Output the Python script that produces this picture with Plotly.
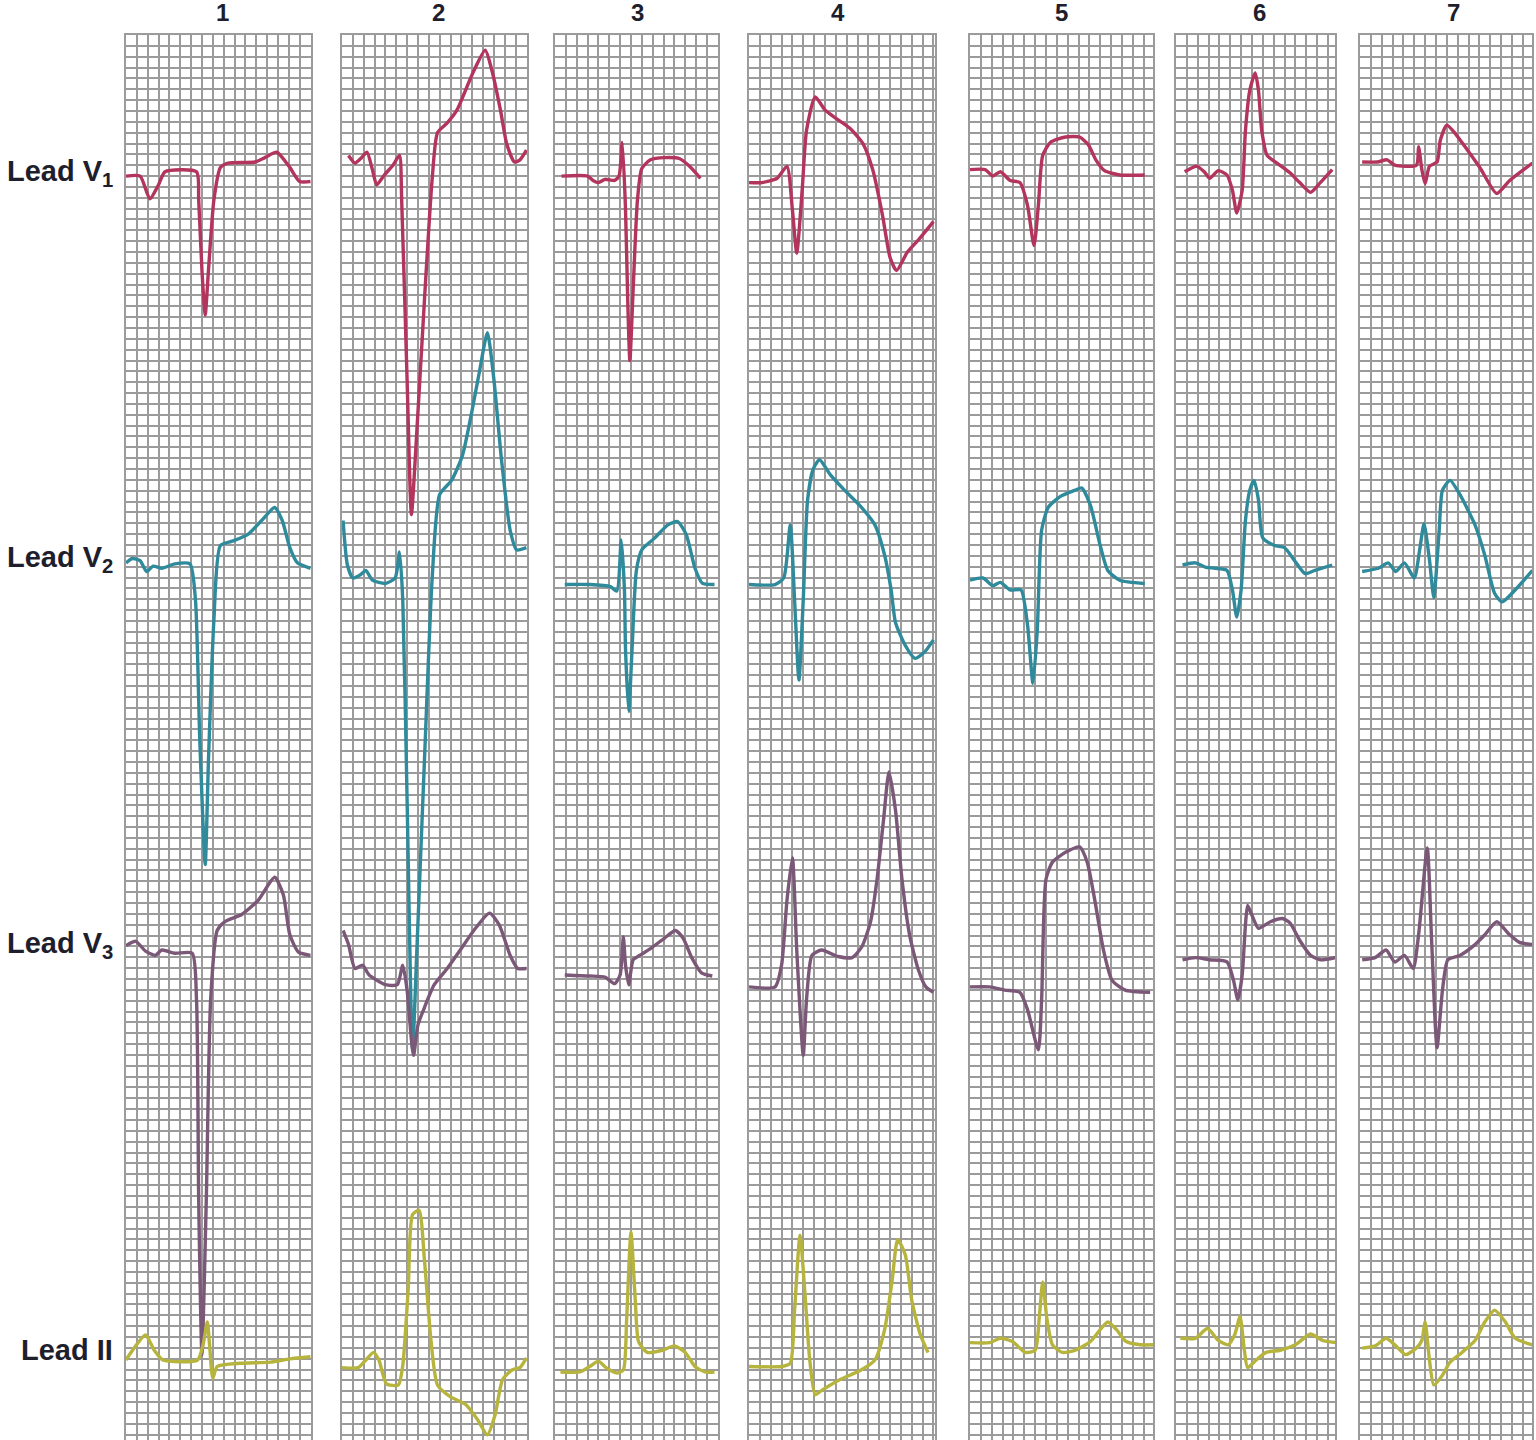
import plotly.graph_objects as go

# ---------------- data (time in small boxes from strip start, amplitude in small boxes) -------------
COLUMN_LABELS = ["1", "2", "3", "4", "5", "6", "7"]
LEAD_LABELS = ["Lead V<sub>1</sub>", "Lead V<sub>2</sub>", "Lead V<sub>3</sub>", "Lead II"]

V1_T = [
    [0, 1.3, 2.2, 3.0, 3.6, 6.5, 6.7, 7.0, 7.3, 7.6, 8.1, 8.7, 9.4, 11.9, 12.8, 13.9, 15.1, 16.0, 17.0],
    [0.6, 1.2, 1.8, 2.3, 2.8, 3.2, 3.9, 4.7, 5.3, 5.5, 6.0, 6.4, 6.8, 7.6, 8.3, 8.8, 9.7, 10.6, 11.3, 12.1, 13.2, 13.8, 14.6, 15.2, 15.9, 16.4, 17.0],
    [0.6, 3.0, 3.5, 4.0, 4.6, 5.5, 5.9, 6.2, 6.5, 6.7, 6.9, 7.2, 7.6, 8.0, 8.8, 10.1, 11.5, 12.4, 13.4],
    [0, 1.2, 2.6, 3.5, 4.0, 4.4, 4.9, 5.3, 6.1, 7.0, 7.9, 9.3, 10.5, 11.4, 12.3, 13.0, 13.6, 14.6, 15.6, 17.0],
    [0, 1.4, 2.1, 2.8, 3.7, 4.6, 5.3, 5.9, 6.3, 6.7, 7.4, 8.8, 10.1, 10.9, 11.6, 12.4, 13.8, 16.1],
    [0.8, 1.9, 2.6, 3.1, 3.9, 4.7, 5.2, 5.6, 6.1, 6.4, 6.8, 7.3, 7.6, 7.9, 8.4, 9.3, 10.5, 11.4, 12.4, 13.3, 14.4],
    [0.2, 1.6, 2.5, 3.2, 5.2, 5.4, 5.7, 6.0, 6.4, 7.1, 7.4, 8.0, 8.8, 9.9, 11.1, 12.6, 13.8, 15.9],
]
V1_V = [
    [-0.1, -0.1, -2.2, -0.9, 0.3, 0.3, -2.3, -8.8, -12.9, -8.8, -2.3, 0.7, 1.1, 1.2, 1.6, 2.1, 0.7, -0.6, -0.6],
    [1.8, 1.1, 1.6, 2.1, 0.5, -0.9, 0, 0.9, 1.8, -2.3, -18.9, -31.3, -25.3, -11.5, -0.5, 3.9, 4.8, 6.0, 7.6, 9.5, 11.5, 9.7, 6.0, 2.8, 1.2, 1.4, 2.3],
    [-0.1, -0.1, -0.5, -0.7, -0.4, -0.5, -0.1, 3.0, -3.2, -11.5, -17.1, -10.6, -2.3, 0.6, 1.4, 1.6, 1.5, 0.8, -0.3],
    [-0.7, -0.7, -0.3, 0.8, -3.2, -7.2, -1.4, 4.1, 7.2, 6.0, 5.3, 4.3, 2.9, 0.5, -3.7, -7.6, -8.8, -7.1, -6.0, -4.3],
    [0.5, 0.5, -0.1, 0.3, -0.5, -0.7, -2.8, -6.5, -2.8, 1.8, 3.0, 3.5, 3.5, 2.8, 1.4, 0.4, 0, 0],
    [0.3, 0.8, 0.3, -0.3, 0.4, 0, -1.4, -3.5, -1.4, 4.1, 7.8, 9.4, 7.8, 4.1, 1.8, 1.1, 0.2, -0.7, -1.6, -0.7, 0.5],
    [1.2, 1.2, 1.4, 0.9, 0.9, 2.6, 0.5, -0.8, 0.8, 1.2, 3.2, 4.6, 3.8, 2.3, 0.6, -1.7, -0.5, 1.1],
]

V2_T = [
    [0, 0.6, 1.3, 1.9, 2.5, 3.3, 4.5, 5.9, 6.4, 6.8, 7.3, 7.6, 8.1, 8.7, 9.8, 11.2, 12.5, 13.7, 14.4, 15.1, 15.8, 17.0],
    [0.1, 0.5, 1.0, 1.7, 2.2, 2.8, 4.0, 4.9, 5.3, 5.6, 6.0, 6.5, 6.9, 7.6, 8.3, 9.0, 10.1, 11.1, 12.0, 12.7, 13.4, 14.0, 14.7, 15.5, 16.1, 17.0],
    [0.9, 3.2, 5.1, 5.7, 6.1, 6.4, 6.5, 6.8, 7.1, 7.5, 8.0, 9.2, 10.4, 11.3, 12.1, 12.9, 13.6, 14.7],
    [0, 2.4, 3.2, 3.8, 4.2, 4.6, 5.0, 5.4, 5.9, 6.5, 7.5, 8.8, 10.2, 11.6, 12.5, 13.1, 13.5, 14.4, 15.3, 16.2, 17.0],
    [0, 1.2, 2.1, 2.8, 3.7, 4.7, 5.3, 5.8, 6.2, 6.6, 7.2, 8.3, 9.7, 10.3, 11.1, 12.0, 12.7, 13.8, 16.1],
    [0.6, 1.8, 2.7, 3.6, 4.7, 5.2, 5.6, 6.0, 6.4, 6.8, 7.2, 7.6, 8.0, 9.1, 10.0, 11.0, 11.9, 12.8, 14.4],
    [0.2, 1.7, 2.6, 3.3, 4.1, 5.0, 5.5, 5.9, 6.4, 6.8, 7.3, 7.6, 8.3, 9.2, 10.6, 11.5, 12.4, 13.1, 14.3, 15.9],
]
V2_V = [
    [0.2, 0.6, 0.4, -0.6, -0.1, -0.3, 0.1, 0.1, -3.2, -16.1, -27.6, -18.0, -5.1, 1.8, 2.2, 2.8, 4.1, 5.3, 4.1, 1.6, 0.2, -0.3],
    [4.1, 0, -1.2, -0.9, -0.5, -1.4, -1.7, -1.2, 1.2, -3.2, -21.7, -44.7, -35.5, -18.0, -1.4, 6.5, 7.8, 10.1, 14.3, 18.0, 21.4, 17.1, 9.7, 3.2, 1.4, 1.6],
    [-1.8, -1.8, -2.0, -2.4, 2.3, -2.3, -7.8, -13.5, -7.8, -0.5, 1.4, 2.5, 3.7, 4.0, 2.8, -0.3, -1.7, -1.8],
    [-1.8, -1.8, -1.2, 3.7, -3.2, -10.6, -3.2, 6.0, 8.8, 9.7, 8.3, 6.9, 5.5, 3.7, 0.9, -2.3, -5.3, -7.4, -8.6, -8.0, -6.9],
    [-1.4, -1.2, -1.9, -1.6, -2.3, -2.3, -5.5, -10.9, -6.0, 3.2, 5.3, 6.3, 6.9, 7.1, 5.5, 1.8, -0.5, -1.4, -1.7],
    [0, 0.2, -0.2, -0.3, -0.5, -2.3, -4.8, -2.3, 4.1, 6.9, 7.8, 6.0, 2.5, 1.8, 1.6, 0.3, -0.8, -0.5, 0],
    [-0.6, -0.3, 0.2, -0.6, 0.2, -1.2, 1.4, 3.8, 0.5, -3.0, 3.2, 6.9, 7.8, 6.5, 3.7, 0.9, -2.6, -3.4, -2.3, -0.5],
]

V3_T = [
    [0, 0.9, 1.8, 2.7, 3.3, 4.5, 6.1, 6.5, 6.7, 7.0, 7.4, 7.8, 8.4, 9.1, 10.7, 12.2, 13.7, 14.5, 15.1, 15.9, 17.0],
    [0.1, 0.6, 1.2, 1.9, 2.5, 4.0, 5.1, 5.6, 6.0, 6.4, 6.6, 7.0, 7.6, 8.5, 9.7, 10.9, 12.3, 13.6, 14.5, 15.5, 16.2, 17.0],
    [0.9, 3.2, 4.6, 5.5, 6.0, 6.3, 6.5, 6.8, 7.2, 7.8, 8.9, 10.1, 11.1, 11.8, 12.6, 13.5, 14.5],
    [0, 2.4, 3.0, 3.5, 4.0, 4.4, 5.0, 5.3, 5.8, 6.7, 8.2, 9.5, 10.4, 11.2, 11.8, 12.4, 12.9, 13.5, 14.1, 14.8, 15.6, 16.3, 17.0],
    [0, 1.8, 3.2, 4.6, 5.3, 6.3, 6.6, 7.0, 7.6, 8.8, 10.1, 10.8, 11.5, 12.3, 13.1, 14.3, 16.6],
    [0.6, 1.8, 3.1, 4.7, 5.3, 5.7, 6.1, 6.4, 6.6, 7.0, 7.6, 8.7, 9.8, 10.5, 11.4, 12.4, 13.3, 14.7],
    [0.2, 1.4, 2.4, 3.2, 4.1, 4.9, 5.4, 6.2, 6.6, 7.1, 7.6, 8.1, 9.2, 10.6, 11.5, 12.6, 13.8, 14.7, 15.9],
]
V3_V = [
    [0.4, 0.8, -0.1, -0.5, 0, -0.3, -0.3, -4.6, -23.0, -37.3, -23.0, -4.6, 1.8, 2.6, 3.3, 4.6, 6.7, 5.1, 1.4, -0.2, -0.5],
    [1.8, 0.5, -1.7, -1.4, -2.3, -3.2, -3.2, -1.4, -3.7, -8.3, -9.7, -6.9, -5.3, -3.2, -1.7, 0, 2.0, 3.4, 2.3, -0.5, -1.7, -1.7],
    [-2.3, -2.4, -2.5, -3.1, -2.3, 1.2, -1.4, -3.2, -0.9, -0.5, 0.2, 1.1, 1.8, 1.1, -0.7, -2.1, -2.4],
    [-3.4, -3.4, -1.4, 4.6, 8.5, 0, -9.7, -4.6, -0.5, 0, -0.6, -0.7, 0.3, 2.6, 6.5, 12.0, 16.4, 12.9, 6.5, 1.4, -1.8, -3.4, -3.9],
    [-3.4, -3.4, -3.7, -3.9, -5.5, -9.2, -4.6, 6.5, 8.1, 9.0, 9.5, 8.1, 4.6, 0, -2.8, -3.7, -3.9],
    [-0.9, -0.7, -0.9, -1.1, -2.8, -4.6, -2.3, 2.3, 4.1, 3.2, 2.0, 2.6, 2.9, 2.5, 0.9, -0.5, -0.9, -0.7],
    [-0.9, -0.7, 0, -1.1, -0.5, -1.7, 1.4, 9.4, 0.9, -9.0, -3.7, -0.9, -0.5, 0.5, 1.4, 2.6, 1.4, 0.7, 0.5],
]

II_T = [
    [0, 0.6, 1.8, 2.6, 3.4, 6.6, 7.1, 7.5, 7.7, 8.0, 8.4, 10.5, 13.3, 15.1, 17.0],
    [0, 1.5, 2.2, 2.9, 3.4, 4.1, 5.2, 5.6, 6.1, 6.5, 7.1, 7.6, 8.2, 8.8, 10.0, 11.4, 12.5, 13.4, 14.1, 14.8, 15.7, 16.4, 17.0],
    [0.5, 2.3, 3.2, 4.0, 4.7, 5.7, 6.3, 6.6, 7.0, 7.4, 7.7, 8.5, 9.9, 11.0, 12.0, 12.9, 13.8, 14.7],
    [0, 3.0, 3.8, 4.2, 4.7, 5.2, 5.6, 6.1, 6.7, 8.4, 10.2, 11.6, 12.5, 13.2, 13.7, 14.4, 15.0, 15.8, 16.5],
    [0, 1.8, 2.8, 3.9, 5.1, 6.0, 6.4, 6.7, 7.1, 7.6, 8.5, 9.7, 11.1, 12.0, 12.7, 13.5, 14.4, 15.7, 16.9],
    [0.4, 1.8, 2.9, 3.9, 4.8, 5.4, 5.9, 6.3, 6.6, 7.4, 8.3, 9.6, 11.0, 12.4, 13.5, 14.7],
    [0.2, 1.4, 2.4, 3.2, 4.2, 5.2, 5.7, 6.0, 6.4, 6.8, 7.6, 8.3, 9.4, 10.6, 11.5, 12.4, 13.4, 14.3, 15.9],
]
II_V = [
    [0, 0.9, 2.3, 0.9, 0, 0, 1.4, 3.5, 1.4, -1.7, -0.6, -0.3, -0.2, 0.1, 0.3],
    [-0.7, -0.7, 0, 0.7, 0, -2.2, -2.3, -0.5, 6.5, 13.4, 13.8, 9.2, 1.8, -2.3, -3.4, -4.1, -5.5, -6.9, -5.1, -1.8, -0.9, -0.7, 0.2],
    [-1.1, -1.1, -0.6, -0.1, -0.7, -1.2, -0.9, 3.7, 11.8, 5.5, 1.7, 0.7, 0.9, 1.3, 0.7, -0.6, -1.1, -1.1],
    [-0.6, -0.6, -0.3, 4.6, 11.5, 5.5, 0, -3.2, -2.8, -1.8, -1.0, 0, 2.8, 7.4, 11.1, 9.7, 5.5, 2.3, 0.7],
    [1.6, 1.6, 2.0, 1.7, 0.7, 0.9, 4.1, 7.2, 3.7, 1.4, 0.7, 0.9, 1.7, 2.8, 3.5, 2.8, 1.7, 1.4, 1.4],
    [2.0, 2.0, 2.9, 1.8, 1.4, 2.3, 4.0, 0.9, -0.7, 0, 0.7, 0.9, 1.4, 2.4, 1.8, 1.6],
    [1.1, 1.3, 2.0, 1.4, 0.5, 1.1, 1.8, 3.5, 0, -2.3, -1.4, -0.2, 0.7, 1.8, 3.5, 4.6, 3.5, 2.0, 1.4],
]

LEAD_T = [V1_T, V2_T, V3_T, II_T]
LEAD_V = [V1_V, V2_V, V3_V, II_V]

# ---------------- layout / style ----------------
W_PX, H_PX = 1536, 1440
CELL = 10.85          # px per small box
TOP_PX = 35           # top edge of the strips
Y_TOP = 130.0         # y value (boxes) at the top edge
PANEL_PX = [(126, 311), (342, 527), (555, 718), (749, 935), (970, 1153), (1176, 1335), (1360, 1532)]
COLUMN_LABEL_PX = [222, 438, 637, 838, 1061, 1259, 1453]
LEAD_BASE_PX = [175, 565, 950, 1360]
LEAD_LABEL_PX = [173, 559, 945, 1350]
LEAD_COLORS = ["#b3345c", "#2f8b9b", "#7b5877", "#b6b43c"]
GRID = "#9b9b9b"
TEXT = "#1e1e2c"
FONT = "Liberation Sans, Arial, sans-serif"

y_bottom = Y_TOP - (H_PX - TOP_PX) / CELL
base_y = [Y_TOP - (p - TOP_PX) / CELL for p in LEAD_BASE_PX]

fig = go.Figure()
layout = {}
for j, (L, R) in enumerate(PANEL_PX):
    k = "" if j == 0 else str(j + 1)
    xa, ya = "x" + k, "y" + k
    for i in range(4):
        fig.add_trace(go.Scatter(
            x=LEAD_T[i][j],
            y=[base_y[i] + v for v in LEAD_V[i][j]],
            mode="lines",
            line=dict(color=LEAD_COLORS[i], width=3.4, shape="spline", smoothing=0.6),
            xaxis=xa, yaxis=ya, showlegend=False, hoverinfo="skip",
        ))
    common = dict(showgrid=True, gridcolor=GRID, gridwidth=2, tick0=0, dtick=1,
                  showline=True, linecolor=GRID, linewidth=2, mirror=True,
                  showticklabels=False, ticks="", zeroline=False, fixedrange=True)
    layout["xaxis" + k] = dict(domain=[L / W_PX, R / W_PX], range=[0, (R - L) / CELL], anchor=ya, **common)
    layout["yaxis" + k] = dict(domain=[0, 1 - TOP_PX / H_PX], range=[y_bottom, Y_TOP], anchor=xa, **common)

annotations = []
for j, cx in enumerate(COLUMN_LABEL_PX):
    annotations.append(dict(x=cx / W_PX, y=1 - 13 / H_PX, xref="paper", yref="paper",
                            text="<b>%s</b>" % COLUMN_LABELS[j], showarrow=False,
                            font=dict(family=FONT, size=24, color=TEXT), xanchor="center", yanchor="middle"))
for i, lab in enumerate(LEAD_LABELS):
    annotations.append(dict(x=115 / W_PX, y=1 - LEAD_LABEL_PX[i] / H_PX, xref="paper", yref="paper",
                            text="<b>%s</b>" % lab, showarrow=False,
                            font=dict(family=FONT, size=29, color=TEXT), xanchor="right", yanchor="middle"))

fig.update_layout(
    width=W_PX, height=H_PX,
    margin=dict(l=0, r=0, t=0, b=0),
    paper_bgcolor="white", plot_bgcolor="white",
    annotations=annotations,
    **layout,
)

fig.write_html("out.html", config={"displayModeBar": False},
               post_script="document.body.style.margin='0px';")
